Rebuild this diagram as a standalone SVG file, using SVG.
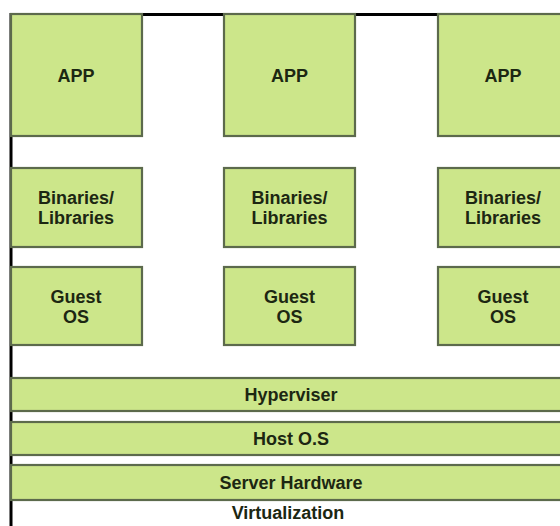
<svg xmlns="http://www.w3.org/2000/svg" width="560" height="526" viewBox="0 0 560 526">
<style>
.box{fill:#cce68a;stroke:#5c6a4c;stroke-width:2.2}
.t{font-family:"Liberation Sans",Arial,sans-serif;font-weight:bold;font-size:18px;fill:#1c2712;text-anchor:middle}
.frame{stroke:#000;stroke-width:3;fill:none}
</style>
<rect x="0" y="0" width="560" height="526" fill="#fff"/>
<g id="frame"><path class="frame" d="M11 526 V14.5 H560"/></g>
<g id="app1"><rect class="box" x="11" y="14" width="131" height="122"/><text class="t" x="76" y="82">APP</text></g>
<g id="app2"><rect class="box" x="224" y="14" width="131" height="122"/><text class="t" x="289.5" y="82">APP</text></g>
<g id="app3"><rect class="box" x="438" y="14" width="131" height="122"/><text class="t" x="503" y="82">APP</text></g>
<g id="bin1"><rect class="box" x="11" y="168" width="131" height="79"/><text class="t" x="76" y="204">Binaries/</text><text class="t" x="76" y="224">Libraries</text></g>
<g id="bin2"><rect class="box" x="224" y="168" width="131" height="79"/><text class="t" x="289.5" y="204">Binaries/</text><text class="t" x="289.5" y="224">Libraries</text></g>
<g id="bin3"><rect class="box" x="438" y="168" width="131" height="79"/><text class="t" x="503" y="204">Binaries/</text><text class="t" x="503" y="224">Libraries</text></g>
<g id="os1"><rect class="box" x="11" y="267" width="131" height="78"/><text class="t" x="76" y="303">Guest</text><text class="t" x="76" y="323">OS</text></g>
<g id="os2"><rect class="box" x="224" y="267" width="131" height="78"/><text class="t" x="289.5" y="303">Guest</text><text class="t" x="289.5" y="323">OS</text></g>
<g id="os3"><rect class="box" x="438" y="267" width="131" height="78"/><text class="t" x="503" y="303">Guest</text><text class="t" x="503" y="323">OS</text></g>
<g id="hyperviser"><rect class="box" x="11" y="378" width="561" height="33"/><text class="t" x="291" y="401">Hyperviser</text></g>
<g id="hostos"><rect class="box" x="11" y="422" width="561" height="33"/><text class="t" x="291" y="445">Host O.S</text></g>
<g id="hardware"><rect class="box" x="11" y="465" width="561" height="35"/><text class="t" x="291" y="489">Server Hardware</text></g>
<g id="connectors"></g>
<text class="t" x="288" y="519" font-size="17">Virtualization</text>
</svg>
